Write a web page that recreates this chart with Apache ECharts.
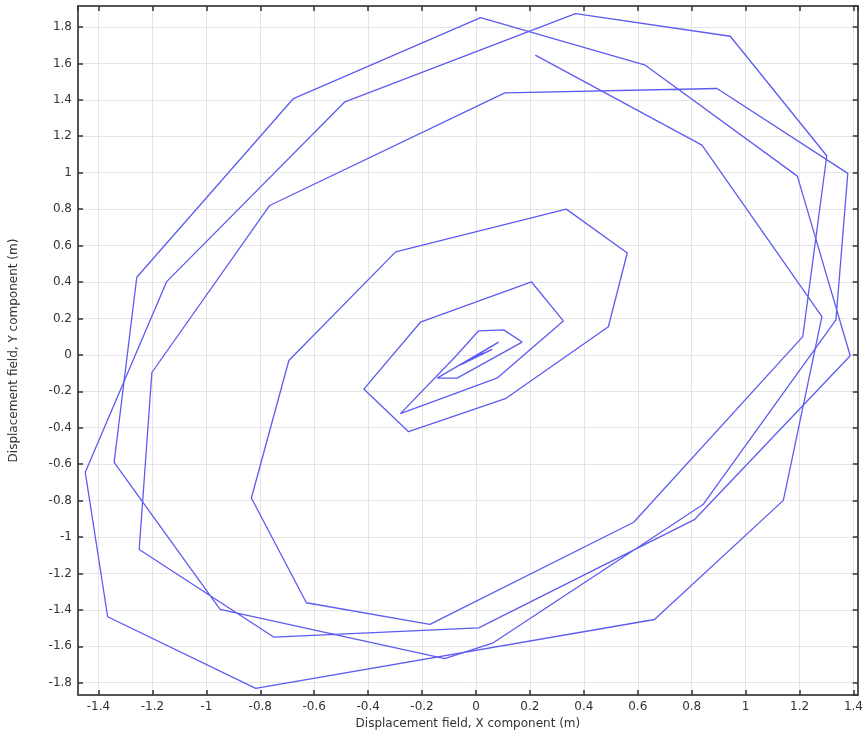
<!DOCTYPE html>
<html>
<head>
<meta charset="UTF-8">
<title>Displacement field</title>
<script src="https://cdn.jsdelivr.net/npm/echarts@6/dist/echarts.min.js"></script>
<style>
  html, body { margin: 0; padding: 0; background: #fff; }
  #main { width: 866px; height: 735px; }
</style>
</head>
<body>
<div id="main"></div>
<script>
// trajectory (x, y in m)
const spiralPath = [
  [0.220, 1.645], [0.838, 1.151], [1.283, 0.210], [1.140, -0.799], [0.662, -1.453],
  [-0.817, -1.831], [-1.366, -1.438], [-1.449, -0.645], [-1.147, 0.402], [-0.486, 1.389],
  [0.369, 1.873], [0.943, 1.749], [1.301, 1.093], [1.212, 0.100], [0.585, -0.919],
  [-0.171, -1.480], [-0.629, -1.361], [-0.833, -0.786], [-0.694, -0.031], [-0.298, 0.565],
  [0.335, 0.800], [0.561, 0.559], [0.491, 0.154], [0.109, -0.241], [-0.250, -0.422],
  [-0.416, -0.188], [-0.206, 0.179], [0.206, 0.400], [0.324, 0.186], [0.080, -0.126],
  [-0.280, -0.323], [-0.076, -0.009], [0.010, 0.132], [0.103, 0.137], [0.171, 0.070],
  [-0.070, -0.128], [-0.144, -0.128], [0.084, 0.070], [-0.057, -0.055], [0.060, 0.030],
  [-0.030, -0.030], [0.030, 0.010], [0.000, 0.000]
];
// the two outer turns that overlap the spiral
const outerLoop = [
  [-0.677, 1.407], [0.017, 1.851], [0.628, 1.590], [1.192, 0.981], [1.388, -0.005],
  [0.810, -0.905], [0.010, -1.499], [-0.749, -1.550], [-1.249, -1.069], [-1.202, -0.097],
  [-0.765, 0.820], [0.107, 1.438], [0.894, 1.462], [1.379, 0.996], [1.335, 0.192],
  [0.842, -0.822], [0.064, -1.581], [-0.116, -1.668], [-0.949, -1.398], [-1.342, -0.590],
  [-1.258, 0.426], [-0.677, 1.407]
];

const xRange = [-1.476, 1.416];
const yRange = [-1.868, 1.915];
const xTitle = 'Displacement field, X component (m)';
const yTitle = 'Displacement field, Y component (m)';

const chart = echarts.init(document.getElementById('main'));

const lineColor = '#5c5cf2';
const frame = { show: true, onZero: false, lineStyle: { color: '#555', width: 2 } };
const ticks = { show: true, inside: true, length: 5, lineStyle: { color: '#333', width: 1.5 } };
const labelFont = { color: '#333', fontSize: 12, fontFamily: 'DejaVu Sans' };

function mkAxis(range, extra) {
  return Object.assign({
    type: 'value',
    min: range[0],
    max: range[1],
    minInterval: 0.2,
    maxInterval: 0.2,
    axisLine: frame,
    axisTick: ticks,
    splitLine: { show: false },
    axisLabel: { show: false }
  }, extra);
}

const series = [spiralPath, outerLoop].map(d => ({
  type: 'line',
  data: d,
  showSymbol: false,
  symbol: 'none',
  lineStyle: { color: lineColor, width: 1.3 },
  animation: false
}));

chart.setOption({
  animation: false,
  grid: { left: 77, right: 8, top: 6, bottom: 39, containLabel: false },
  xAxis: [
    mkAxis(xRange, {
      position: 'bottom',
      name: xTitle,
      nameLocation: 'middle',
      nameGap: 20,
      nameTextStyle: labelFont,
      splitLine: { show: true, lineStyle: { color: '#e4e4e4', width: 1 } },
      axisLabel: Object.assign({ show: true, margin: 6, showMinLabel: false, showMaxLabel: false }, labelFont)
    }),
    mkAxis(xRange, { position: 'top' })
  ],
  yAxis: [
    mkAxis(yRange, {
      position: 'left',
      name: yTitle,
      nameLocation: 'middle',
      nameGap: 58,
      nameTextStyle: labelFont,
      splitLine: { show: true, lineStyle: { color: '#e4e4e4', width: 1 } },
      axisLabel: Object.assign({ show: true, margin: 6, showMinLabel: false, showMaxLabel: false }, labelFont)
    }),
    mkAxis(yRange, { position: 'right' })
  ],
  series: series
});
</script>
</body>
</html>
